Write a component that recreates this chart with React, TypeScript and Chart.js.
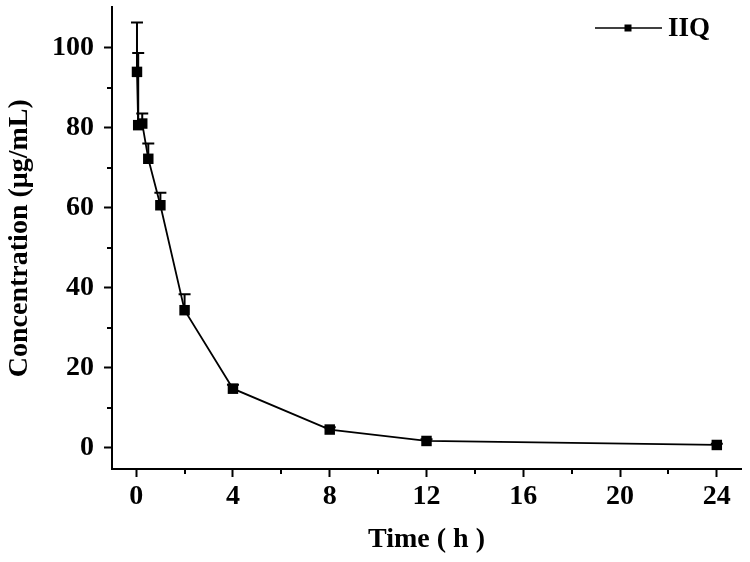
import React, { useEffect, useRef } from 'react';
import { Chart, registerables } from 'chart.js';

Chart.register(...registerables);

// ---- data ----
const timeH = [0.033, 0.083, 0.25, 0.5, 1, 2, 4, 8, 12, 24];
const concentration = [93.9, 80.6, 81.0, 72.2, 60.6, 34.4, 14.8, 4.6, 1.75, 0.75];
const sdUpper = [12.3, 18.0, 2.5, 3.8, 3.1, 4.0, 1.0, 0.6, 0.4, 0.3];

const xMajorTicks = [0, 4, 8, 12, 16, 20, 24];
const xMinorTicks = [2, 6, 10, 14, 18, 22];
const yMajorTicks = [0, 20, 40, 60, 80, 100];
const yMinorTicks = [10, 30, 50, 70, 90];

const seriesLabel = 'IIQ';
const xTitle = 'Time ( h )';
const yTitle = 'Concentration (\u03bcg/mL)';

const FONT = 'Liberation Serif';

const errorBarPlugin = {
  id: 'errorBars',
  beforeDatasetsDraw(chart: any) {
    const { ctx } = chart;
    const xs = chart.scales.x;
    const ys = chart.scales.y;
    ctx.save();
    ctx.strokeStyle = '#000';
    ctx.lineWidth = 2;
    for (let i = 0; i < timeH.length; i++) {
      const px = xs.getPixelForValue(timeH[i]);
      const p0 = ys.getPixelForValue(concentration[i]);
      const p1 = ys.getPixelForValue(concentration[i] + sdUpper[i]);
      ctx.beginPath();
      ctx.moveTo(px, p0);
      ctx.lineTo(px, p1);
      ctx.moveTo(px - 6, p1);
      ctx.lineTo(px + 6, p1);
      ctx.stroke();
    }
    ctx.restore();
  },
};

const minorTickPlugin = {
  id: 'minorTicks',
  afterDraw(chart: any) {
    const { ctx, chartArea } = chart;
    const xs = chart.scales.x;
    const ys = chart.scales.y;
    ctx.save();
    ctx.strokeStyle = '#000';
    ctx.lineWidth = 2;
    ctx.beginPath();
    for (const v of xMinorTicks) {
      const px = Math.round(xs.getPixelForValue(v));
      ctx.moveTo(px, chartArea.bottom);
      ctx.lineTo(px, chartArea.bottom + 5);
    }
    for (const v of yMinorTicks) {
      const py = Math.round(ys.getPixelForValue(v));
      ctx.moveTo(chartArea.left - 5, py);
      ctx.lineTo(chartArea.left, py);
    }
    ctx.stroke();
    ctx.restore();
  },
};

const legendPlugin = {
  id: 'customLegend',
  afterDraw(chart: any) {
    const { ctx } = chart;
    const ds = chart.data.datasets[0];
    const y = 28;
    ctx.save();
    ctx.strokeStyle = '#000';
    ctx.lineWidth = 1.5;
    ctx.beginPath();
    ctx.moveTo(595, y);
    ctx.lineTo(662, y);
    ctx.stroke();
    ctx.fillStyle = '#000';
    ctx.fillRect(624.5, y - 3.5, 7, 7);
    ctx.font = `bold 27px "${FONT}"`;
    ctx.textBaseline = 'middle';
    ctx.textAlign = 'left';
    ctx.fillText(ds.label, 668, y + 1);
    ctx.restore();
  },
};

export default function App() {
  const canvasRef = useRef<HTMLCanvasElement | null>(null);

  useEffect(() => {
    if (!canvasRef.current) return;
    const tickFont = { family: FONT, size: 28, weight: 'bold' as const };
    const chart = new Chart(canvasRef.current, {
      type: 'line',
      data: {
        datasets: [
          {
            label: seriesLabel,
            data: timeH.map((t, i) => ({ x: t, y: concentration[i] })),
            borderColor: '#000',
            backgroundColor: '#000',
            borderWidth: 1.8,
            pointStyle: 'rect',
            pointRadius: 7.4,
            pointBorderWidth: 0,
            pointBackgroundColor: '#000',
            tension: 0,
            clip: false as any,
          },
        ],
      },
      options: {
        animation: false,
        responsive: false,
        devicePixelRatio: 1,
        layout: { padding: { top: 7, right: 9, left: 0, bottom: 0 } },
        plugins: {
          legend: { display: false },
          tooltip: { enabled: false },
        },
        scales: {
          x: {
            type: 'linear',
            min: -1,
            max: 25,
            afterBuildTicks: (s: any) => {
              s.ticks = xMajorTicks.map((v) => ({ value: v }));
            },
            afterFit: (s: any) => {
              s.height = 93;
              s.paddingLeft = 0;
              s.paddingRight = 0;
            },
            grid: {
              drawOnChartArea: false,
              drawTicks: true,
              tickLength: 8,
              tickWidth: 2,
              tickColor: '#000',
            },
            border: { display: true, color: '#000', width: 2 },
            ticks: {
              color: '#000',
              font: tickFont,
              padding: 3,
              maxRotation: 0,
              autoSkip: false,
            },
            title: {
              display: true,
              text: xTitle,
              color: '#000',
              font: tickFont,
              padding: { top: 0, bottom: 5 },
            },
          },
          y: {
            type: 'linear',
            min: -5.25,
            max: 110,
            afterBuildTicks: (s: any) => {
              s.ticks = yMajorTicks.map((v) => ({ value: v }));
            },
            afterFit: (s: any) => {
              s.width = 112;
              s.paddingTop = 0;
              s.paddingBottom = 0;
            },
            grid: {
              drawOnChartArea: false,
              drawTicks: true,
              tickLength: 8,
              tickWidth: 2,
              tickColor: '#000',
            },
            border: { display: true, color: '#000', width: 2 },
            ticks: {
              color: '#000',
              font: tickFont,
              padding: 10,
              autoSkip: false,
            },
            title: {
              display: true,
              text: yTitle,
              color: '#000',
              font: tickFont,
              padding: { top: 3, bottom: 0 },
            },
          },
        },
      },
      plugins: [errorBarPlugin, minorTickPlugin, legendPlugin],
    });
    return () => chart.destroy();
  }, []);

  return (
    <div style={{ position: 'absolute', left: 0, top: 0, width: 750, height: 562, background: '#fff' }}>
      <canvas ref={canvasRef} width={750} height={562} style={{ width: 750, height: 562, display: 'block' }} />
    </div>
  );
}
